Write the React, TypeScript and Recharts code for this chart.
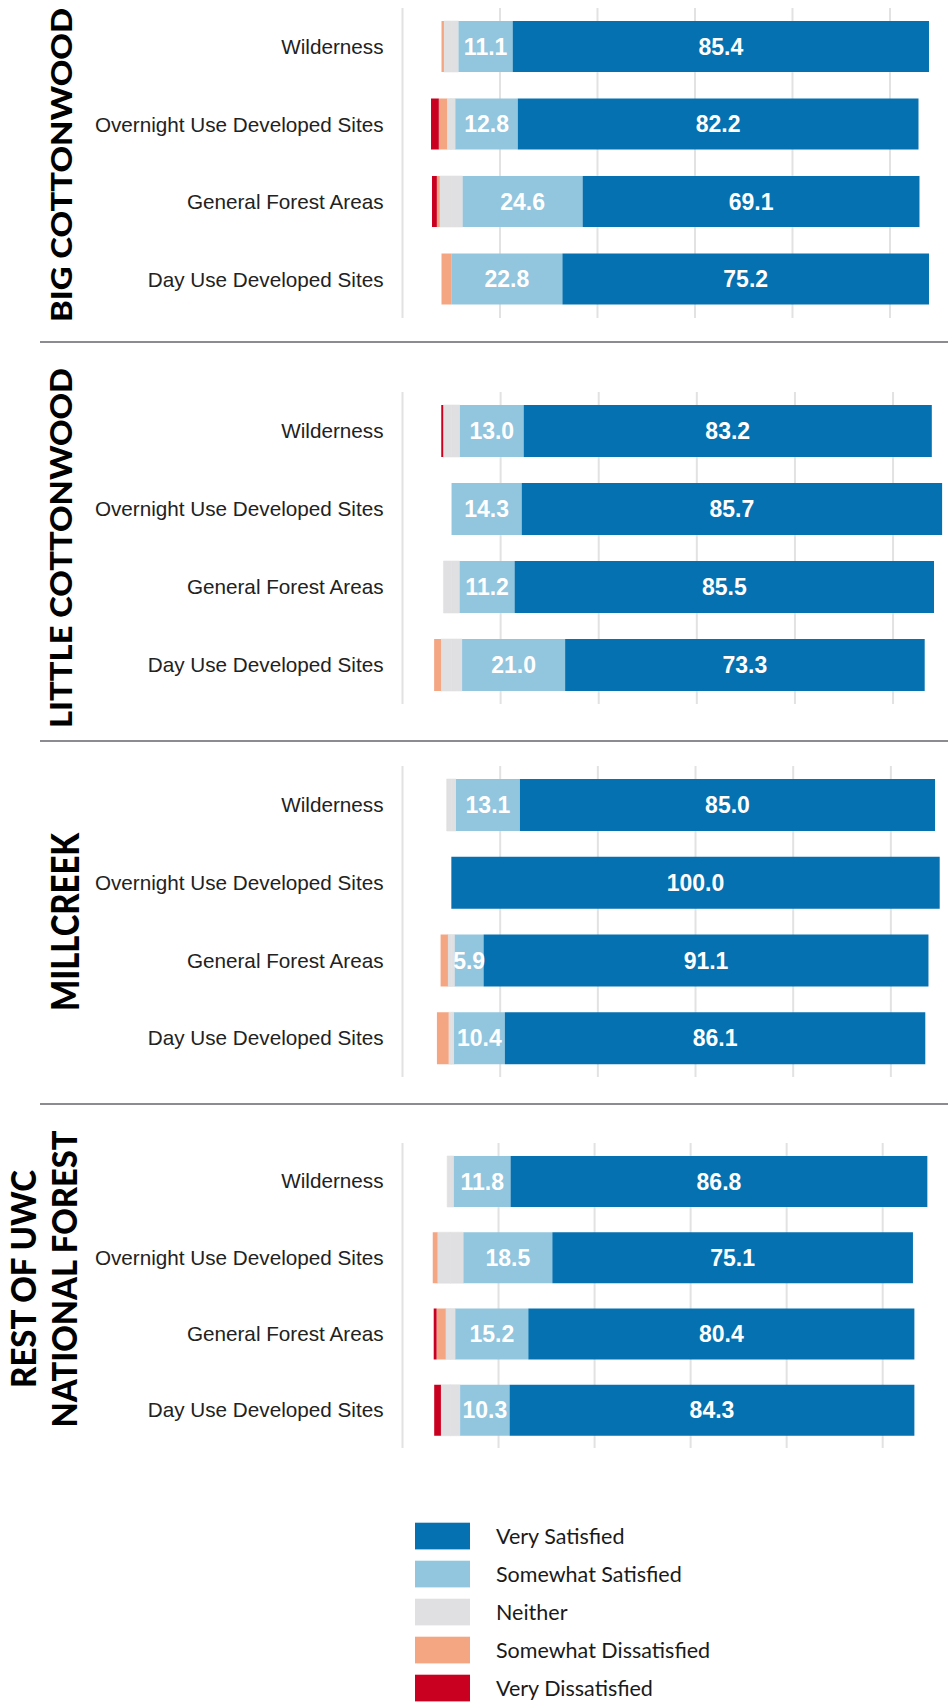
import React from "react";
import { BarChart, Bar, XAxis, YAxis, CartesianGrid, LabelList } from "recharts";

const categories = [
  "Wilderness",
  "Overnight Use Developed Sites",
  "General Forest Areas",
  "Day Use Developed Sites",
];

const groupNames = [
  ["BIG COTTONWOOD"],
  ["LITTLE COTTONWOOD"],
  ["MILLCREEK"],
  ["REST OF UWC", "NATIONAL FOREST"],
];

// one row per group, one value per category (percent)
const verySatisfied = [
  [85.4, 82.2, 69.1, 75.2],
  [83.2, 85.7, 85.5, 73.3],
  [85.0, 100.0, 91.1, 86.1],
  [86.8, 75.1, 80.4, 84.3],
];
const somewhatSatisfied = [
  [11.1, 12.8, 24.6, 22.8],
  [13.0, 14.3, 11.2, 21.0],
  [13.1, 0, 5.9, 10.4],
  [11.8, 18.5, 15.2, 10.3],
];
const neither = [
  [3.0, 1.7, 4.7, 0],
  [3.4, 0, 3.3, 4.3],
  [1.9, 0, 1.4, 1.1],
  [1.4, 5.4, 2.0, 4.0],
];
const somewhatDissatisfied = [
  [0.5, 1.7, 0.6, 2.0],
  [0, 0, 0, 1.4],
  [0, 0, 1.5, 2.4],
  [0, 1.0, 1.9, 0],
];
const veryDissatisfied = [
  [0, 1.6, 1.0, 0],
  [0.4, 0, 0, 0],
  [0, 0, 0, 0],
  [0, 0, 0.6, 1.4],
];

const gridTicks = [-10, 10, 30, 50, 70, 90];

const legendItems = [
  { name: "Very Satisfied", color: "#0571b0" },
  { name: "Somewhat Satisfied", color: "#92c5de" },
  { name: "Neither", color: "#e0e0e2" },
  { name: "Somewhat Dissatisfied", color: "#f4a582" },
  { name: "Very Dissatisfied", color: "#ca0020" },
];

// layout of each panel on the page
const panels = [
  { top: 8, height: 310, barSize: 51, xMax: 101.9, labelX: [71.7], labelY: 165, fontSize: 28, lengths: [314] },
  { top: 392, height: 312, barSize: 52, xMax: 101.2, labelX: [71.7], labelY: 548, fontSize: 31, lengths: [360] },
  { top: 766, height: 311, barSize: 52, xMax: 101.7, labelX: [79], labelY: 922, fontSize: 38, lengths: [178] },
  { top: 1143, height: 305, barSize: 51, xMax: 103.6, labelX: [36, 77.3], labelY: 1279, fontSize: 35, lengths: [218, 297] },
];

const separators = [342, 741, 1104];

const fmt = (v: any) => (v ? Number(v).toFixed(1) : "");

const NoTick = () => <g />;

function buildRows(g: number) {
  return categories.map((name, i) => ({
    name,
    nL: -neither[g][i] / 2,
    sd: -somewhatDissatisfied[g][i],
    vd: -veryDissatisfied[g][i],
    nR: neither[g][i] / 2,
    ss: somewhatSatisfied[g][i],
    vs: verySatisfied[g][i],
  }));
}

function Panel({ g }: { g: number }) {
  const p = panels[g];
  const labelProps = {
    position: "center" as const,
    formatter: fmt,
    fill: "#fff",
    fontSize: 23,
    fontWeight: 700,
    fontFamily: "Liberation Sans, Arial, sans-serif",
  };
  return (
    <div style={{ position: "absolute", left: 0, top: p.top }}>
      <BarChart
        layout="vertical"
        width={948}
        height={p.height}
        data={buildRows(g)}
        stackOffset="sign"
        margin={{ top: 0, right: 0, bottom: 0, left: 0 }}
      >
        <CartesianGrid horizontal={false} syncWithTicks stroke="#e2e2e2" strokeWidth={2} />
        <XAxis
          type="number"
          domain={[-10, p.xMax]}
          ticks={gridTicks}
          interval={0}
          allowDataOverflow
          tick={<NoTick />}
          axisLine={false}
          tickLine={false}
          height={0}
        />
        <YAxis
          type="category"
          dataKey="name"
          width={402.5}
          tickSize={0}
          tickMargin={19}
          axisLine={false}
          tickLine={false}
          tick={{ fontSize: 20.7, fill: "#222", fontFamily: "Liberation Sans, Arial, sans-serif" }}
        />
        <Bar dataKey="nL" stackId="a" fill="#e0e0e2" stroke="#e0e0e2" strokeWidth={0.6} barSize={p.barSize} isAnimationActive={false} />
        <Bar dataKey="sd" stackId="a" fill="#f4a582" barSize={p.barSize} isAnimationActive={false} />
        <Bar dataKey="vd" stackId="a" fill="#ca0020" barSize={p.barSize} isAnimationActive={false} />
        <Bar dataKey="nR" stackId="a" fill="#e0e0e2" stroke="#e0e0e2" strokeWidth={0.6} barSize={p.barSize} isAnimationActive={false} />
        <Bar dataKey="ss" stackId="a" fill="#92c5de" barSize={p.barSize} isAnimationActive={false}>
          <LabelList dataKey="ss" {...labelProps} />
        </Bar>
        <Bar dataKey="vs" stackId="a" fill="#0571b0" barSize={p.barSize} isAnimationActive={false}>
          <LabelList dataKey="vs" {...labelProps} />
        </Bar>
      </BarChart>
    </div>
  );
}

export default function App() {
  return (
    <div
      style={{
        position: "absolute",
        left: 0,
        top: 0,
        width: 948,
        height: 1706,
        background: "#fff",
        overflow: "hidden",
      }}
    >
      {panels.map((_, g) => (
        <Panel key={g} g={g} />
      ))}
      <svg
        width={948}
        height={1706}
        style={{ position: "absolute", left: 0, top: 0, pointerEvents: "none" }}
      >
        {separators.map((y) => (
          <line key={y} x1={40} x2={948} y1={y} y2={y} stroke="#8c8c90" strokeWidth={2} />
        ))}
        {panels.map((p, g) =>
          groupNames[g].map((line, k) => (
            <text
              key={g + "-" + k}
              transform={`translate(${p.labelX[k]},${p.labelY}) rotate(-90)`}
              textAnchor="middle"
              fontFamily="Lato, sans-serif"
              fontWeight={900}
              fontSize={p.fontSize}
              textLength={p.lengths[k]}
              lengthAdjust="spacingAndGlyphs"
              fill="#000"
            >
              {line}
            </text>
          ))
        )}
        {legendItems.map((item, i) => {
          const cy = 1536 + i * 38;
          return (
            <g key={item.name}>
              <rect x={415} y={cy - 13.3} width={55} height={26.7} fill={item.color} />
              <text
                x={496}
                y={cy + 7.6}
                fontFamily="Lato, sans-serif"
                fontSize={21.5}
                fill="#1a1a1a"
              >
                {item.name}
              </text>
            </g>
          );
        })}
      </svg>
    </div>
  );
}
